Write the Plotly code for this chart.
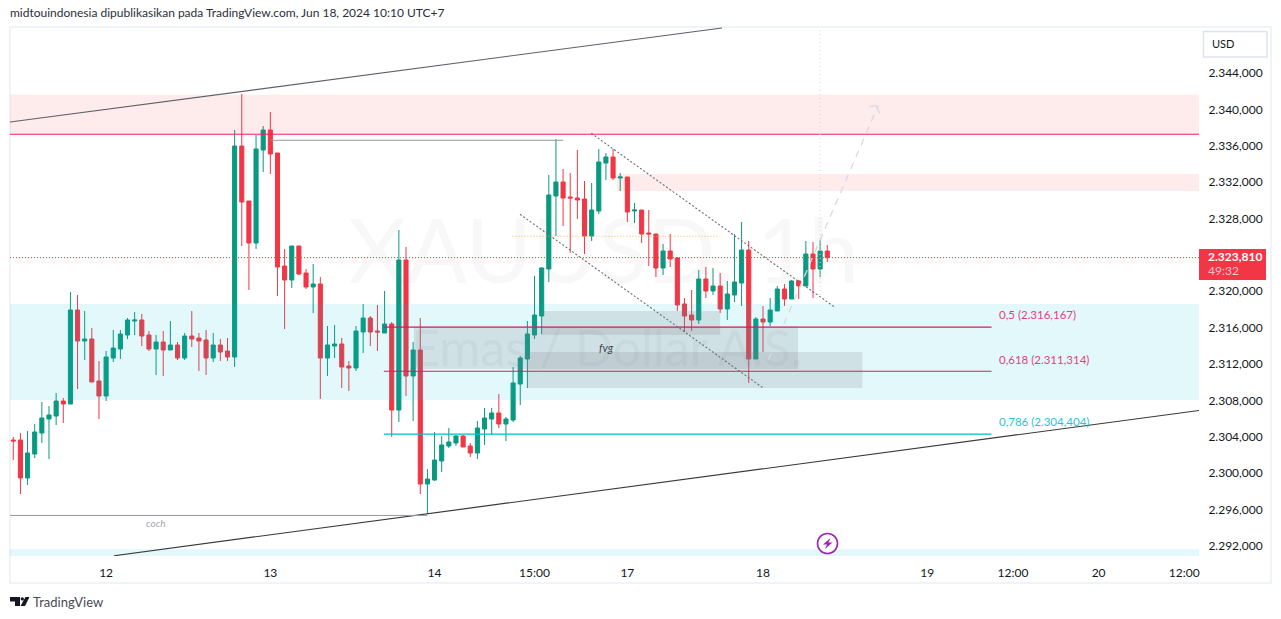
import plotly.graph_objects as go

bars = list(range(115))
opens = [2303.75,2303.75,2299.57,2302.21,2304.52,2306.06,2306.39,2308.04,2307.71,2318.05,2314.64,2314.86,2310.24,2308.59,2312.77,2313.76,2315.30,2316.84,2316.95,2315.30,
2313.76,2314.53,2313.65,2314.20,2312.77,2315.19,2314.97,2314.75,2312.77,2314.20,2313.54,2312.88,2336.09,2330.04,2325.42,2335.65,2337.85,2335.32,2322.89,2321.35,
2325.09,2322.12,2320.58,2320.91,2312.77,2314.09,2314.31,2311.89,2311.67,2315.63,2317.17,2315.74,2315.52,2316.51,2307.05,2323.55,2310.79,2313.65,2298.91,2299.35,
2301.44,2303.09,2303.42,2304.19,2303.09,2302.32,2304.96,2306.06,2306.72,2305.51,2305.95,2309.91,2312.66,2315.30,2317.39,2322.56,2330.59,2332.13,2330.48,2330.37,
2330.26,2326.19,2328.94,2334.22,2334.88,2332.57,2332.68,2328.94,2329.05,2326.52,2326.41,2322.67,2324.54,2323.77,2318.71,2317.50,2316.95,2321.46,2320.14,2320.69,
2318.16,2319.70,2321.02,2324.65,2312.66,2317.06,2316.73,2317.94,2320.36,2319.26,2321.24,2320.69,2324.21,2322.56,2324.54]
highs = [2304.08,2304.52,2304.74,2305.51,2307.93,2307.49,2308.92,2308.37,2320.03,2319.70,2317.94,2316.07,2312.44,2313.54,2315.85,2315.85,2317.17,2317.83,2317.61,2315.74,
2315.30,2315.74,2316.84,2314.53,2315.52,2317.94,2315.52,2315.85,2315.52,2314.86,2314.97,2337.85,2341.81,2330.04,2337.30,2338.29,2339.83,2335.32,2324.76,2325.09,
2325.09,2322.56,2323.11,2321.68,2316.29,2316.40,2314.97,2312.44,2316.29,2318.71,2317.39,2318.60,2320.14,2316.73,2326.85,2324.98,2314.53,2317.17,2300.56,2304.63,
2304.19,2305.07,2304.30,2304.30,2303.42,2305.84,2307.27,2307.27,2308.81,2306.28,2311.78,2312.99,2316.84,2321.79,2322.78,2332.90,2336.86,2333.56,2333.12,2335.65,
2332.24,2332.02,2335.76,2335.32,2335.76,2333.12,2332.68,2329.82,2329.05,2329.05,2326.41,2325.31,2326.41,2323.88,2319.37,2320.25,2322.45,2322.78,2322.67,2322.12,
2321.24,2326.41,2327.73,2325.64,2317.28,2318.49,2319.37,2320.69,2320.91,2321.35,2321.35,2325.64,2325.53,2325.75,2325.20]
lows = [2301.55,2297.81,2298.80,2301.77,2303.42,2301.66,2305.40,2305.62,2307.71,2309.36,2312.55,2310.13,2306.06,2308.04,2312.33,2312.66,2314.86,2315.30,2314.09,2313.54,
2310.90,2310.79,2313.65,2312.55,2312.55,2313.98,2311.34,2310.90,2312.33,2312.44,2312.44,2311.78,2325.09,2320.25,2324.76,2333.23,2333.01,2319.59,2315.96,2320.47,
2321.90,2320.36,2317.72,2308.26,2310.79,2312.77,2309.47,2309.14,2311.34,2313.32,2314.09,2313.54,2315.52,2304.08,2305.73,2308.59,2305.84,2297.81,2295.61,2299.24,
2300.23,2302.87,2303.09,2302.98,2301.88,2301.66,2303.20,2304.30,2305.07,2303.64,2305.73,2307.60,2309.47,2314.86,2315.41,2321.13,2326.19,2327.29,2324.32,2328.06,
2324.21,2325.64,2328.61,2332.35,2332.35,2331.14,2327.73,2327.62,2325.42,2322.89,2321.68,2321.90,2322.78,2317.94,2315.63,2315.74,2316.51,2319.37,2319.70,2317.72,
2316.95,2318.93,2318.49,2310.02,2312.66,2313.43,2316.29,2317.94,2318.49,2319.26,2319.26,2320.69,2319.37,2321.68,2323.33]
closes = [2303.64,2299.57,2302.32,2304.63,2306.17,2306.50,2308.04,2307.71,2318.05,2314.64,2314.86,2310.13,2308.59,2312.88,2313.87,2315.41,2316.95,2316.95,2315.19,2313.76,
2314.53,2313.65,2314.20,2312.77,2315.19,2314.86,2314.64,2312.77,2314.20,2313.43,2312.88,2336.09,2329.93,2325.42,2335.76,2337.85,2335.21,2322.78,2321.35,2325.09,
2322.01,2320.58,2320.91,2312.77,2314.20,2314.31,2311.78,2311.67,2315.74,2317.17,2315.63,2315.63,2316.51,2307.05,2323.55,2310.79,2313.65,2298.91,2299.46,2301.55,
2303.20,2303.53,2304.19,2302.98,2302.32,2305.07,2306.17,2306.72,2305.51,2306.06,2310.02,2312.77,2315.41,2317.50,2322.67,2330.70,2332.13,2330.37,2330.37,2330.15,
2326.19,2329.05,2334.33,2334.88,2332.57,2332.68,2328.83,2329.05,2326.41,2326.41,2322.67,2324.54,2323.66,2318.60,2317.39,2316.95,2321.46,2320.14,2320.69,2318.16,
2319.81,2321.13,2324.65,2312.66,2317.06,2316.73,2318.05,2320.36,2319.26,2321.24,2320.69,2324.21,2322.56,2324.54,2323.81]

price_ticks = [2344,2340,2336,2332,2328,2320,2316,2312,2308,2304,2300,2296,2292]
price_labels = ["2.344,000","2.340,000","2.336,000","2.332,000","2.328,000","2.320,000","2.316,000","2.312,000","2.308,000","2.304,000","2.300,000","2.296,000","2.292,000"]
time_ticks = [13,36,59,73,86,105,128,140,152,164]
time_labels = ["12","13","14","15:00","17","18","19","12:00","20","12:00"]

last_price = 2323.81
fib_prices = [2316.167, 2311.314, 2304.404]
fib_labels = ["0,5 (2.316,167)", "0,618 (2.311,314)", "0,786 (2.304,404)"]

FONT = "Lato"
TXT = "#131722"
X0, X1 = -0.46, 166.06
Y0, Y1 = 2290.99, 2349.18
L, R, T, B = 10, 1199, 27, 556

def px(v):
    return (v - L) / (R - L)

def py(v):
    return (B - v) / (B - T)

shapes = []

def zone(x0, x1, y0, y1, color):
    shapes.append(dict(type="rect", xref="x", yref="y", x0=x0, x1=x1, y0=y0, y1=y1,
                       fillcolor=color, line=dict(width=0), layer="above"))

def seg(x0, y0, x1, y1, color, width=1, dash="solid"):
    shapes.append(dict(type="line", xref="x", yref="y", x0=x0, x1=x1, y0=y0, y1=y1,
                       line=dict(color=color, width=width, dash=dash), layer="above"))

RED_Z = "rgba(242,54,69,0.10)"
BLUE_Z = "rgba(0,188,212,0.11)"
GREY_Z = "rgba(120,123,134,0.18)"

zone(X0, X1, 2337.38, 2341.72, RED_Z)
zone(84.55, X1, 2331.14, 2333.0, RED_Z)
zone(X0, X1, 2308.15, 2318.71, BLUE_Z)
zone(X0, X1, Y0, 2291.72, BLUE_Z)
zone(56.1, 109.9, 2311.56, 2316.25, GREY_Z)
zone(73.9, 99.0, 2315.3, 2317.94, GREY_Z)
zone(71.95, 118.9, 2309.47, 2313.43, GREY_Z)

seg(X0, 2338.73, 99.25, 2349.07, "#5d606b", 1.2)
seg(14.1, 2291.02, X1, 2306.995, "#3a3a3a", 1.2)
seg(X0, 2295.45, 58, 2295.45, "#9598a1")
seg(36, 2336.72, 77, 2336.72, "#9598a1")
seg(X0, 2337.38, X1, 2337.38, "#ef1f68", 1.2)
seg(X0, last_price, X1, last_price, "#f23645", 1, "1px,2px")
seg(69.9, 2326.16, 98.7, 2326.16, "#ffb74d", 1, "1px,2px")
seg(51.9, fib_prices[0], 137, fib_prices[0], "#d81b60", 1.2)
seg(51.9, fib_prices[1], 137, fib_prices[1], "#d81b60", 1.2)
seg(51.9, fib_prices[2], 137, fib_prices[2], "#00bcd4", 1.2)
seg(80.95, 2337.49, 114.94, 2318.41, "#6a6d78", 1.1, "2px,2px")
seg(70.97, 2328.58, 104.96, 2309.50, "#6a6d78", 1.1, "2px,2px")
seg(105.74, 2312.55, 121.1, 2340.49, "#d8dae1", 1.3, "7px,6px")
seg(119.9, 2340.42, 120.9, 2340.52, "#d8dae1", 1.3)
seg(120.9, 2340.52, 121.35, 2339.68, "#d8dae1", 1.3)
seg(113, 2319.7, 113, Y1, "#d1d4dc", 1, "1px,3px")

# frame around the chart
shapes.append(dict(type="rect", xref="paper", yref="paper", x0=px(10), x1=px(1271), y0=py(583), y1=py(27),
                   line=dict(color="#f0f3fa", width=2), layer="below"))
# currency button
shapes.append(dict(type="rect", xref="paper", yref="paper", x0=px(1203.5), x1=px(1267), y0=py(57), y1=py(31.5),
                   line=dict(color="#e0e3eb", width=1.5), fillcolor="white", layer="above"))
# last price tag
shapes.append(dict(type="rect", xref="paper", yref="paper", x0=px(1199), x1=px(1266), y0=py(280), y1=py(249),
                   line=dict(width=0), fillcolor="#f23645", layer="above"))
# lightning icon
shapes.append(dict(type="circle", xref="paper", yref="paper", x0=px(817.5), x1=px(837.5), y0=py(553.5), y1=py(533.5),
                   line=dict(color="#9c27b0", width=1.6), fillcolor="white", layer="above"))


def poly(points, color):
    d = "M" + " L".join(f"{px(a):.5f},{py(b):.5f}" for a, b in points) + " Z"
    shapes.append(dict(type="path", xref="paper", yref="paper", path=d, fillcolor=color,
                       line=dict(width=0), layer="above"))


poly([(830.5, 538), (823, 544.5), (827, 544.5), (825, 549), (832.5, 542.5), (828.5, 542.5)], "#9c27b0")
# TradingView logo
poly([(10, 597), (20, 597), (20, 606), (15, 606), (15, 601.5), (10, 601.5)], "#131722")
poly([(25.5, 597), (29.5, 597), (25, 606), (20.5, 606)], "#131722")
shapes.append(dict(type="circle", xref="paper", yref="paper", x0=px(20.6), x1=px(24), y0=py(600.6), y1=py(597.2),
                   fillcolor="#131722", line=dict(width=0), layer="above"))

annotations = []


def note(x, y, text, size=12, color=TXT, anchor="left", italic=False, bold=False, data=False):
    t = text
    if italic:
        t = f"<i>{t}</i>"
    if bold:
        t = f"<b>{t}</b>"
    annotations.append(dict(
        x=x if data else px(x), y=y if data else py(y),
        xref="x" if data else "paper", yref="y" if data else "paper",
        text=t, showarrow=False, xanchor=anchor, yanchor="middle",
        font=dict(family=FONT, size=size, color=color), borderpad=0, borderwidth=0))


note(603, 248, "XAUUSD, 1h", 90, "rgba(120,123,134,0.055)", "center")
note(606, 347, "Emas / Dollar A.S.", 50, "rgba(120,123,134,0.08)", "center")
note(606, 347, "fvg", 11, "#434651", "center", italic=True)
note(155, 523, "coch", 10, "#a3a6af", "center", italic=True)
note(999, 314.5, fib_labels[0], 11.5, "#e4407f")
note(999, 359.5, fib_labels[1], 11.5, "#e4407f")
note(999, 421.5, fib_labels[2], 11.5, "#26c6da")
note(10, 13, "midtouindonesia dipublikasikan pada TradingView.com, Jun 18, 2024 10:10 UTC+7", 12, "#2a2e39")
note(33, 601.5, "TradingView", 13, "#4a4a52")
note(1212, 44, "USD", 11, TXT)
note(1207.5, 256.5, "2.323,810", 12, "white", bold=True)
note(1207.5, 270.5, "49:32", 12, "#fbc5ca")

fig = go.Figure(go.Candlestick(
    x=bars, open=opens, high=highs, low=lows, close=closes,
    increasing=dict(line=dict(color="#089981", width=1), fillcolor="#089981"),
    decreasing=dict(line=dict(color="#f23645", width=1), fillcolor="#f23645"),
    whiskerwidth=0, hoverinfo="skip"))

fig.update_layout(
    width=1281, height=619, autosize=False,
    margin=dict(l=L, r=1281 - R, t=T, b=619 - B, pad=0),
    paper_bgcolor="white", plot_bgcolor="white",
    showlegend=False, boxgap=0.18,
    font=dict(family=FONT, size=12, color=TXT),
    shapes=shapes, annotations=annotations,
    xaxis=dict(range=[X0, X1], rangeslider=dict(visible=False), showgrid=False, zeroline=False,
               showline=False, tickmode="array", tickvals=time_ticks, ticktext=time_labels,
               ticks="outside", ticklen=6, tickcolor="rgba(0,0,0,0)", tickfont=dict(size=12, color=TXT)),
    yaxis=dict(range=[Y0, Y1], side="right", showgrid=False, zeroline=False, showline=False,
               tickmode="array", tickvals=price_ticks, ticktext=price_labels, ticklabelshift=-1,
               ticks="outside", ticklen=6, tickcolor="rgba(0,0,0,0)", tickfont=dict(size=12, color=TXT)),
)

fig.write_html("out.html", config=dict(displayModeBar=False),
               post_script="document.body.style.margin='0';document.documentElement.style.overflow='hidden';")
